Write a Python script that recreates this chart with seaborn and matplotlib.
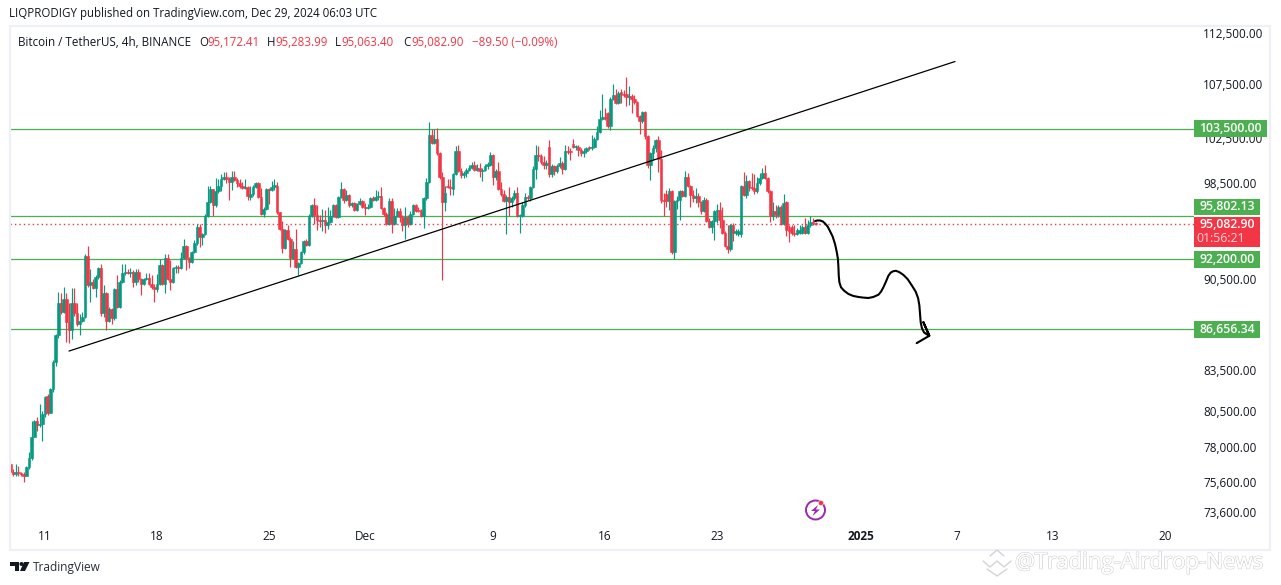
#!/usr/bin/env python3
# BTC/USDT 4h chart (prices in thousands)
import numpy as np
import pandas as pd
import seaborn as sns
import matplotlib.pyplot as plt
import matplotlib.patheffects as pe
from matplotlib.patches import Rectangle, Circle, Polygon
from matplotlib.transforms import ScaledTranslation

#%% data
opens = [
    76.9,76.4,76.2,76.4,76.3,76.2,76.1,76.7,77.3,78.8,
    79.9,79.6,79.7,80.4,81.7,80.5,82.2,84.2,86.2,88.7,
    88.0,89.0,87.2,86.6,88.7,87.9,87.1,87.3,87.6,92.5,
    90.1,90.4,89.9,90.8,91.5,87.9,89.5,87.3,88.2,87.5,
    89.8,88.4,90.4,91.1,91.2,91.1,91.2,90.4,91.2,90.6,
    90.2,90.6,90.7,90.2,90.0,89.8,90.2,91.7,90.2,92.3,
    90.6,90.4,91.5,91.6,91.5,92.3,93.3,92.3,92.0,92.8,
    93.5,94.9,94.0,94.3,95.8,97.0,98.1,96.7,97.9,98.4,
    99.0,99.2,99.0,98.7,99.2,98.9,98.6,98.4,98.2,98.3,
    97.4,97.7,98.3,98.6,97.4,96.0,96.4,98.1,98.0,98.3,
    98.4,96.1,94.7,93.1,94.6,93.9,92.3,93.0,91.6,91.9,
    92.8,93.7,93.4,95.8,96.7,95.9,95.5,95.4,95.5,95.0,
    95.3,95.8,96.7,95.7,97.4,98.1,97.2,97.6,96.7,96.9,
    96.3,96.8,97.1,96.6,96.5,96.6,97.3,97.2,97.4,97.5,
    96.5,96.0,95.1,97.1,95.1,95.8,96.2,95.7,95.0,95.7,
    95.1,96.0,96.7,96.3,96.2,95.8,97.3,98.7,102.9,102.2,
    102.6,101.3,99.2,97.0,98.4,98.3,98.1,99.4,101.5,99.7,
    99.3,99.5,99.8,100.0,100.2,99.8,100.0,99.7,99.8,100.1,
    100.2,101.1,99.2,99.7,98.1,97.7,97.1,97.4,97.0,97.3,
    97.8,95.8,95.8,96.7,97.4,97.3,98.3,99.9,101.1,101.0,
    100.5,100.2,101.8,99.4,100.1,99.7,100.1,100.4,99.9,101.5,
    101.5,102.1,101.8,101.8,101.6,101.3,101.5,101.8,101.7,101.8,
    102.6,103.2,104.4,104.6,104.9,103.7,106.3,106.6,105.9,106.9,
    106.7,106.7,106.4,106.5,106.3,106.0,104.7,104.2,105.0,102.8,
    100.2,101.3,101.7,102.5,100.8,97.2,97.7,97.1,97.9,92.8,
    97.1,97.2,97.9,97.5,99.2,98.4,97.6,97.3,97.5,97.0,
    96.2,97.2,95.4,94.9,95.4,96.2,96.3,95.5,94.4,93.3,
    93.0,95.0,94.4,94.3,94.3,98.4,97.6,98.8,98.3,98.2,
    97.9,98.6,99.1,99.5,99.1,97.9,95.8,96.2,95.9,96.6,
    95.1,97.0,94.6,94.9,94.4,94.3,94.4,94.4,94.9,94.4,95.0,95.3,95.172,
]
closes = [
    76.4,76.2,76.4,76.3,76.2,76.1,76.7,77.3,78.8,79.9,
    79.6,79.7,80.4,81.6,80.5,82.2,84.2,86.2,88.7,88.0,
    89.0,87.2,86.6,88.7,87.9,87.1,87.3,87.6,92.5,90.1,
    90.4,89.9,90.8,91.5,87.9,89.5,87.3,88.2,87.5,89.8,
    88.4,90.4,91.1,91.2,91.1,91.2,90.4,91.2,90.6,90.2,
    90.6,90.7,90.2,90.0,89.8,90.2,91.7,90.2,92.3,90.6,
    90.4,91.5,91.6,91.5,92.3,93.3,92.3,92.0,92.8,93.5,
    94.9,94.0,94.3,95.8,97.0,98.1,96.7,97.9,98.4,99.0,
    99.2,99.0,98.7,99.2,98.9,98.6,98.4,98.2,98.3,97.5,
    97.7,98.3,98.6,97.4,96.0,96.4,98.1,98.0,98.3,98.5,
    96.1,94.7,93.1,94.6,93.9,92.3,93.0,91.6,91.9,92.8,
    93.7,93.4,95.8,96.7,95.9,95.5,95.4,95.5,95.0,95.3,
    95.8,96.7,95.7,97.4,98.1,97.2,97.6,96.7,96.9,96.3,
    96.8,97.1,96.6,96.5,96.6,97.3,97.2,97.4,97.5,96.5,
    96.0,95.1,97.1,95.1,95.8,96.2,95.7,95.0,95.7,95.1,
    96.0,96.7,96.2,96.2,95.8,97.3,98.7,102.9,102.2,102.6,
    101.3,99.2,97.0,97.8,98.3,98.2,99.4,101.5,99.7,99.3,
    99.5,99.8,100.0,100.2,99.8,100.0,99.7,99.8,100.1,100.3,
    101.1,99.2,99.7,98.1,97.7,97.1,97.4,97.0,97.3,97.8,
    95.8,95.9,96.7,97.4,97.3,98.3,99.9,101.1,101.0,100.5,
    100.2,100.4,99.4,100.1,99.7,100.1,100.4,99.9,101.5,101.4,
    101.4,101.8,101.9,101.6,101.3,101.5,101.7,101.7,101.8,102.6,
    103.2,104.4,104.6,104.5,103.7,106.3,106.6,105.9,106.8,106.7,
    106.6,106.4,106.5,106.3,106.0,104.7,104.2,105.0,102.8,100.2,
    101.3,101.7,102.5,100.8,97.2,97.1,97.1,97.9,92.8,97.1,
    97.2,97.9,97.5,99.2,98.4,97.6,97.3,97.5,97.0,96.2,
    97.2,95.4,94.9,95.4,96.2,96.3,95.5,94.4,93.3,93.0,
    95.0,94.4,94.5,94.5,98.4,97.6,98.8,98.3,98.2,97.9,
    98.6,99.1,99.5,99.1,97.9,95.8,96.2,95.9,96.6,95.1,
    96.9,94.6,94.5,94.4,94.3,94.6,94.6,94.9,94.4,95.0,95.3,95.2,95.083,
]
highs = [
    77.2,76.6,76.9,76.8,76.4,76.4,76.8,77.7,79.9,80.0,
    80.2,81.1,80.6,81.7,81.8,82.3,84.3,86.3,89.6,89.5,
    90.0,89.5,88.7,89.9,89.9,88.7,87.8,88.0,92.6,93.3,
    91.4,90.6,90.9,91.6,91.8,90.1,89.6,88.4,88.3,89.9,
    90.9,90.5,91.8,91.8,91.4,91.5,91.3,91.4,91.4,90.7,
    90.7,91.1,91.1,90.9,90.2,91.0,92.2,91.8,92.6,92.6,
    92.1,91.6,91.7,91.7,92.8,93.9,93.4,92.4,92.9,93.8,
    95.1,95.1,94.4,96.0,98.4,98.4,98.1,99.1,99.0,99.4,
    99.6,99.6,99.2,99.7,99.7,99.1,99.0,98.7,99.0,98.4,
    98.4,98.5,98.7,98.7,98.2,96.6,98.2,98.2,98.8,99.0,
    98.7,96.1,95.4,94.7,95.0,94.0,93.7,94.7,92.0,92.9,
    93.8,93.9,96.0,96.8,97.3,96.7,95.9,96.4,96.3,96.6,
    96.3,96.8,96.8,97.5,98.7,98.2,98.0,97.7,97.0,97.0,
    96.9,97.3,97.2,96.9,96.8,97.4,97.5,98.0,97.9,98.3,
    96.6,96.1,97.3,97.3,96.5,96.5,96.5,95.9,96.6,95.9,
    96.2,96.8,96.8,96.6,96.4,97.4,99.1,104.1,103.5,103.5,
    103.6,101.4,99.6,98.4,99.0,99.0,99.5,101.9,102.0,100.0,
    99.7,100.0,100.2,100.5,100.6,100.3,100.4,100.0,100.3,100.5,
    101.4,101.2,99.9,100.5,98.7,98.0,97.6,98.3,97.5,98.0,
    98.3,96.0,97.0,97.8,97.6,98.4,100.1,102.0,101.9,101.2,
    101.0,100.7,102.5,100.3,100.2,100.3,100.9,100.6,102.0,101.9,
    101.7,102.6,102.0,102.0,101.7,101.7,101.8,101.9,102.9,102.7,
    103.7,105.2,106.7,105.4,105.0,106.4,107.7,107.2,107.0,107.2,
    107.1,108.3,107.5,106.7,106.6,106.1,104.8,105.1,105.1,102.9,
    101.4,102.0,102.6,102.8,101.6,97.8,98.0,98.2,98.0,97.2,
    97.5,98.0,98.0,99.7,99.5,98.5,98.0,98.2,97.8,97.1,
    97.4,97.3,95.6,95.5,96.3,96.8,97.0,96.6,94.5,95.0,
    95.1,95.2,94.7,94.7,98.5,99.6,99.3,98.9,99.5,99.4,
    99.2,99.5,100.0,100.2,99.2,98.0,97.0,96.7,96.7,96.7,
    97.7,97.1,95.0,95.0,95.0,94.8,95.0,95.0,95.6,95.5,95.8,95.6,95.284,
]
lows = [
    76.2,76.1,76.1,76.1,76.1,75.7,76.1,76.6,77.2,78.8,
    79.2,79.5,78.5,80.2,80.3,80.5,82.0,83.9,86.0,87.8,
    87.9,85.7,85.6,85.9,87.7,86.9,86.2,87.2,87.5,90.0,
    88.8,89.8,89.2,90.6,87.7,87.6,86.6,87.2,87.1,87.4,
    88.3,88.3,90.3,90.9,91.0,90.8,90.0,90.1,90.4,89.3,
    90.1,90.5,90.1,89.8,88.8,89.6,90.1,90.1,89.5,90.5,
    89.7,90.3,91.1,91.1,91.4,92.2,91.3,91.5,91.9,92.7,
    93.4,93.2,93.4,94.2,95.7,96.9,95.8,96.6,97.8,97.9,
    98.9,98.6,97.2,98.0,98.8,98.3,98.2,98.1,98.1,97.2,
    97.2,97.5,98.2,97.3,95.9,95.7,96.3,96.8,97.9,98.0,
    96.0,94.6,92.7,93.0,93.8,91.6,92.2,91.5,90.9,91.8,
    92.6,93.3,93.3,95.7,95.1,94.6,94.9,94.5,94.4,94.7,
    95.2,95.7,95.6,95.6,97.3,96.9,97.1,96.6,96.6,96.2,
    96.2,96.7,96.5,95.9,96.4,96.5,97.1,97.1,97.2,96.4,
    95.8,95.0,95.0,94.4,95.0,95.7,95.3,94.5,93.9,94.9,
    95.0,95.9,96.1,96.1,95.7,94.8,97.2,98.6,102.1,102.1,
    101.1,99.0,90.5,96.2,98.2,97.6,97.6,99.3,99.6,99.1,
    99.1,99.2,99.7,99.9,99.7,99.7,99.2,98.8,99.7,99.9,
    100.1,98.5,98.9,98.0,97.5,97.0,94.3,95.8,96.6,97.2,
    95.7,94.4,95.7,96.6,97.2,97.1,98.2,99.0,100.6,100.3,
    99.9,99.9,99.2,99.2,99.3,99.5,100.0,99.4,99.8,101.2,
    100.7,101.7,101.6,101.0,101.0,100.9,101.3,101.6,101.6,101.7,
    102.5,103.1,104.3,104.3,103.6,103.4,106.2,105.8,105.8,105.9,
    106.4,105.6,105.7,104.9,105.8,104.6,103.0,104.0,102.6,100.0,
    98.9,100.7,101.4,99.6,96.9,95.8,96.6,96.3,92.6,92.2,
    96.4,95.5,97.4,97.4,98.3,96.6,97.0,96.9,96.6,96.0,
    96.1,95.3,94.8,94.4,93.8,95.2,94.8,94.3,93.2,92.7,
    92.9,93.7,94.2,94.1,94.0,97.5,97.3,97.9,98.0,97.7,
    97.8,98.5,99.0,99.0,97.8,95.3,95.5,95.6,95.7,95.0,
    95.0,94.1,93.6,94.2,94.1,94.2,94.3,94.3,94.3,94.3,94.9,95.0,95.063,
]

levels = [103500.00, 95802.13, 92200.00, 86656.34]
last_price = 95082.90
price_ticks = [112500, 107500, 102500, 98500, 90500, 83500, 80500, 78000, 75600, 73600]

# x values are days after Nov 11 2024
date_ticks = [0, 7, 14, 20, 28, 35, 42, 51, 57, 63, 70]
date_labels = ["11", "18", "25", "Dec", "9", "16", "23", "2025", "7", "13", "20"]

trend_days = [1.5, 56.875]
trend_prices = [85000, 109840]

# the hand drawn arrow
arrow_days = [48.13, 48.27, 48.44, 48.61, 48.75, 48.92, 49.06, 49.23, 49.38, 49.48, 49.56, 49.59,
              49.61, 49.65, 49.75, 49.94, 50.21, 50.52, 50.84, 51.15, 51.46, 51.77, 52.09, 52.25,
              52.40, 52.56, 52.71, 52.86, 53.02, 53.19, 53.40, 53.65, 53.92, 54.17, 54.42, 54.57,
              54.65, 54.69, 54.73, 54.81, 54.94, 55.11, 55.27, 54.9, 55.27, 54.48]
arrow_prices = [95370, 95420, 95420, 95340, 95170, 94900, 94530, 94070, 93430, 92830, 92200, 91530,
                90860, 90340, 89940, 89670, 89410, 89250, 89170, 89120, 89090, 89170, 89350, 89590,
                89940, 90390, 90860, 91120, 91230, 91260, 91150, 90930, 90580, 90100, 89590, 89070,
                88490, 87840, 87200, 86730, 86420, 86270, 86160, 87200, 86160, 85600]

#%% setup
GREEN = "#089981"
RED = "#F23645"
LEVEL = "#4CAF50"
TXT = "#131722"

sns.set_theme(style="white")
plt.rcParams["font.family"] = ["Open Sans", "DejaVu Sans"]

W, H = 1281, 585
fig = plt.figure(figsize=(W / 100, H / 100), dpi=100, facecolor="white")
ax = fig.add_axes([10 / W, (H - 524.5) / H, 1184 / W, 498 / H])

df = pd.DataFrame({"open": opens, "close": closes, "high": highs, "low": lows}) * 1000
df["time"] = pd.date_range("2024-11-08 20:00", periods=len(df), freq="4h")
df["day"] = (df["time"] - pd.Timestamp("2024-11-11")) / pd.Timedelta(days=1)
df["up"] = df["close"] >= df["open"]
df["color"] = np.where(df["up"], GREEN, RED)

#%% candles
ax.set_yscale("log")
ax.vlines(df["day"], df["low"], df["high"], colors=df["color"], linewidth=0.85, zorder=3)
ax.bar(df["day"], (df["close"] - df["open"]).abs(), bottom=df[["open", "close"]].min(axis=1),
       width=0.155, color=df["color"], edgecolor=df["color"], linewidth=0.4, zorder=4)

#%% levels and drawings
for lv in levels:
    ax.axhline(lv, color=LEVEL, linewidth=0.9, zorder=2)
ax.axhline(last_price, color=RED, linewidth=1.0, linestyle=(0, (1, 2.2)), zorder=2)

sns.lineplot(x=trend_days, y=trend_prices, color="black", linewidth=0.9, ax=ax, zorder=5)
sns.lineplot(x=arrow_days, y=arrow_prices, color="black", linewidth=1.5, sort=False,
             estimator=None, ax=ax, zorder=6, solid_joinstyle="round")

#%% axes
ax.set_xlim(-2.1875, 71.8125)
ax.set_ylim(72900, 113300)
ax.set_xticks(date_ticks)
ax.set_xticklabels(date_labels)
for lab, txt in zip(ax.get_xticklabels(), date_labels):
    if txt == "2025":
        lab.set_fontweight("bold")
ax.yaxis.tick_right()
ax.yaxis.set_minor_locator(plt.NullLocator())
ax.set_yticks(price_ticks)
ax.set_yticklabels([f"{p:,.2f}" for p in price_ticks])
ax.tick_params(axis="x", length=0, pad=4.2, labelsize=8.5, labelcolor=TXT)
ax.tick_params(axis="y", length=0, pad=6.5, labelsize=8.5, labelcolor=TXT)
up_shift = ScaledTranslation(0, 1.5 / 100, fig.dpi_scale_trans)
for lab in ax.get_yticklabels():
    lab.set_transform(lab.get_transform() + up_shift)
ax.set_xlabel("")
ax.set_ylabel("")
ax.patch.set_alpha(0)
for s in ax.spines.values():
    s.set_visible(False)

#%% overlay in pixels for the chrome around the chart
ov = fig.add_axes([0, 0, 1, 1], zorder=10)
ov.set_xlim(0, W)
ov.set_ylim(H, 0)
ov.axis("off")
ov.patch.set_alpha(0)

ov.add_patch(Rectangle((10, 26), 1260, 524, fill=False, edgecolor="#EDF0F6", linewidth=1.6))

ov.text(9, 14, "LIQPRODIGY published on TradingView.com, Dec 29, 2024 06:03 UTC",
        fontsize=8.3, color=TXT, va="center")
ov.text(18, 42, "Bitcoin / TetherUS, 4h, BINANCE", fontsize=8.4, color=TXT, va="center")
for x, key, val in [(199, "O", "95,172.41"), (267, "H", "95,283.99"),
                    (335, "L", "95,063.40"), (403, "C", "95,082.90")]:
    ov.text(x, 42, key, fontsize=8.3, color=TXT, va="center")
    ov.text(x + (6.5 if key == "L" else 8), 42, val, fontsize=8.3, color=RED, va="center")
ov.text(472, 42, "−89.50 (−0.09%)", fontsize=8.3, color=RED, va="center")

# price boxes on the axis
boxes = [(120, 17, 73, 0), (199, 16, 66, 1), (251, 17, 66, 2), (321, 17, 66, 3)]
for y, h, w, i in boxes:
    ov.add_patch(Rectangle((1194, y), w, h, facecolor=LEVEL, edgecolor="none"))
    ov.text(1194 + w / 2, y + h / 2, f"{levels[i]:,.2f}", color="white", fontsize=8.8,
            fontweight="semibold", ha="center", va="center")
ov.add_patch(Rectangle((1194, 217), 66, 30, facecolor=RED, edgecolor="none"))
ov.text(1227, 224, f"{last_price:,.2f}", color="white", fontsize=8.8, fontweight="semibold",
        ha="center", va="center")
ov.text(1221, 238, "01:56:21", color="#FFD5DA", fontsize=8.8, ha="center", va="center")

# TradingView logo
ov.add_patch(Polygon([(10, 562), (19, 562), (19, 571), (14.5, 571), (14.5, 566), (10, 566)],
                     facecolor=TXT, edgecolor="none"))
ov.add_patch(Circle((21.5, 564), 2, facecolor=TXT, edgecolor="none"))
ov.add_patch(Polygon([(24, 562), (29.5, 562), (25, 571), (20, 571)], facecolor=TXT, edgecolor="none"))
ov.text(33, 567, "TradingView", fontsize=8.6, color="#2A2E39", va="center")

# event icon
ov.add_patch(Circle((815.5, 510), 9.5, fill=False, edgecolor="#9C27B0", linewidth=1.4))
ov.add_patch(Polygon([(818, 505), (811, 511), (815, 511), (812.5, 516), (820, 509.5), (816, 509.5)],
                     facecolor="#9C27B0", edgecolor="none"))
ov.add_patch(Circle((821, 503), 2.6, facecolor=RED, edgecolor="white", linewidth=0.4))

# watermark
ov.text(1015, 563, "@Trading-Airdrop-News", fontsize=16, color="white", va="center",
        path_effects=[pe.withStroke(linewidth=1.0, foreground="#CFCFCF"), pe.Normal()])
wm = "#D4D4D4"
ov.plot([983, 990, 997, 1004, 1011], [561, 567, 561, 567, 561], color=wm, linewidth=1.0)
ov.plot([990, 997, 1004], [556, 550, 556], color=wm, linewidth=1.0)
ov.plot([987, 997, 1007], [569, 576, 569], color=wm, linewidth=1.0)

fig.savefig("out.png", dpi=100)
